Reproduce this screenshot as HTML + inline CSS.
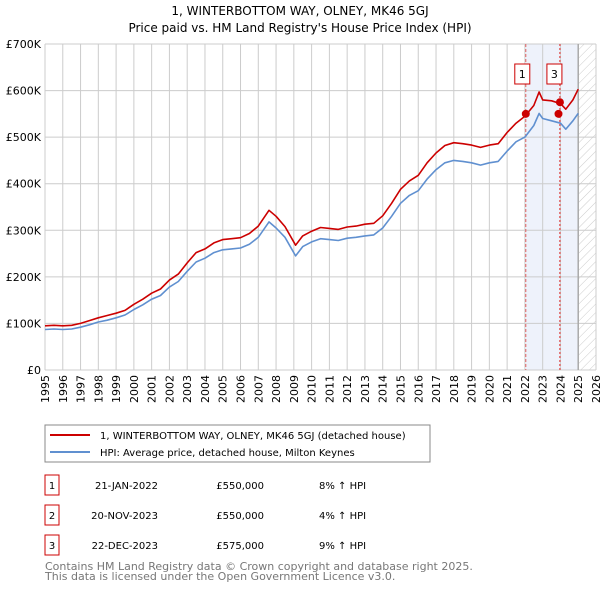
<!DOCTYPE html>
<html><head><meta charset="utf-8"><style>
body{margin:0;background:#fff;font-family:"Liberation Sans","DejaVu Sans",sans-serif;}
svg text{font-family:"DejaVu Sans","Liberation Sans",sans-serif;}
</style></head><body>
<svg id="chart" width="600" height="590" viewBox="0 0 600 590">
<defs><pattern id="hatch" width="6" height="6" patternUnits="userSpaceOnUse" patternTransform="rotate(45)"><line x1="0" y1="0" x2="0" y2="6" stroke="#ccc" stroke-width="1"/></pattern></defs>
<text x="300" y="15" text-anchor="middle" font-size="12">1, WINTERBOTTOM WAY, OLNEY, MK46 5GJ</text>
<text x="300" y="32" text-anchor="middle" font-size="12">Price paid vs. HM Land Registry's House Price Index (HPI)</text>
<g id="grid"></g><g id="marks"></g><g id="axes"></g>
<rect x="45" y="425" width="385" height="37" fill="#fff" stroke="#888"/>
<line x1="50" y1="435" x2="90" y2="435" stroke="#cc0000" stroke-width="2"/>
<text x="100" y="439" font-size="10">1, WINTERBOTTOM WAY, OLNEY, MK46 5GJ (detached house)</text>
<line x1="50" y1="452" x2="90" y2="452" stroke="#6090d0" stroke-width="2"/>
<text x="100" y="456" font-size="10">HPI: Average price, detached house, Milton Keynes</text>
<g id="table" font-size="10"></g>
<text x="45" y="570" font-size="11" fill="#777">Contains HM Land Registry data © Crown copyright and database right 2025.</text>
<text x="45" y="580" font-size="11" fill="#777">This data is licensed under the Open Government Licence v3.0.</text>
</svg>
<script>
const hpiYears=[1995,1995.5,1996,1996.5,1997,1997.5,1998,1998.5,1999,1999.5,2000,2000.5,2001,2001.5,2002,2002.5,2003,2003.5,2004,2004.5,2005,2005.5,2006,2006.5,2007,2007.6,2008,2008.5,2009.1,2009.5,2010,2010.5,2011,2011.5,2012,2012.5,2013,2013.5,2014,2014.5,2015,2015.5,2016,2016.5,2017,2017.5,2018,2018.5,2019,2019.5,2020,2020.5,2021,2021.5,2022,2022.5,2022.8,2023,2023.5,2024,2024.3,2024.7,2025];
const hpiValues=[87,88,87,88,92,97,103,107,112,118,130,140,152,160,178,190,212,232,240,252,258,260,262,270,285,318,305,285,245,265,275,282,280,278,283,285,288,290,305,330,358,375,385,410,430,445,450,448,445,440,445,448,470,490,500,525,551,540,535,530,517,535,551];
const propValues=[95,96,95,96,100,106,112,117,122,128,141,152,165,174,193,206,230,252,260,273,280,282,284,293,309,343,330,308,268,288,298,306,304,302,307,309,313,315,331,358,388,406,418,445,466,482,488,486,483,478,483,486,510,530,545,568,597,580,578,572,560,580,603];
const saleLabels=["1","2","3"];
const saleDates=[2022.05,2023.89,2023.97];
const saleValues=[550,550,575];
const saleDateText=["21-JAN-2022","20-NOV-2023","22-DEC-2023"];
const salePriceText=["£550,000","£550,000","£575,000"];
const saleHpiText=["8% ↑ HPI","4% ↑ HPI","9% ↑ HPI"];
const yTicks=[0,100,200,300,400,500,600,700];
const yTickLabels=["£0","£100K","£200K","£300K","£400K","£500K","£600K","£700K"];
const xTicks=[];for(let y=1995;y<=2026;y++)xTicks.push(y);

const NS="http://www.w3.org/2000/svg";
const X0=45,X1=596,Y0=370,Y1=44;
const xs=v=>X0+(v-1995)/(2026-1995)*(X1-X0);
const ys=v=>Y0-v/700*(Y0-Y1);
function mk(tag,attrs,parent){const e=document.createElementNS(NS,tag);for(const k in attrs)e.setAttribute(k,attrs[k]);parent.appendChild(e);return e;}
const grid=document.getElementById('grid'),marks=document.getElementById('marks'),axes=document.getElementById('axes'),table=document.getElementById('table');

let r=mk('rect',{x:xs(saleDates[0]),y:Y1,width:xs(2025)-xs(saleDates[0]),height:Y0-Y1,fill:'#eef2fb'},grid);


r=mk('rect',{x:xs(2025),y:Y1,width:X1-xs(2025),height:Y0-Y1,fill:'url(#hatch)'},grid);


yTicks.forEach((t,i)=>{
 const l=mk('line',{x1:X0,x2:X1,y1:ys(t),y2:ys(t),stroke:'#ccc'},grid);
 
 
 const tx=mk('text',{x:X0-4,y:ys(t)+4,'text-anchor':'end','font-size':11},axes);tx.textContent=yTickLabels[i];
 
 
});
xTicks.forEach(t=>{
 const l=mk('line',{x1:xs(t),x2:xs(t),y1:Y1,y2:Y0,stroke:'#ccc'},grid);
 
 
 const tx=mk('text',{x:0,y:0,'text-anchor':'end','font-size':11,transform:`translate(${xs(t)+4},${Y0+5}) rotate(-90)`},axes);tx.textContent=t;
 
 
});
let ax=mk('line',{x1:xs(2025),x2:xs(2025),y1:Y1,y2:Y0,stroke:'#aaa','stroke-width':1.5},grid);


[0,2].forEach(i=>{
 const l=mk('line',{x1:xs(saleDates[i]),x2:xs(saleDates[i]),y1:Y1,y2:Y0,stroke:'#e06060','stroke-dasharray':i==2?'2,2':'3,2','stroke-width':i==2?1.5:1},marks);
 
 
});
function path(vals,col,name){
 const d=hpiYears.map((y,i)=>(i?'L':'M')+xs(y).toFixed(1)+','+ys(vals[i]).toFixed(1)).join('');
 const p=mk('path',{d:d,fill:'none',stroke:col,'stroke-width':1.6,'stroke-linejoin':'round'},marks);
 
 
}
path(hpiValues,'#6090d0','hpi-line');
path(propValues,'#cc0000','property-line');
saleDates.forEach((d,i)=>{
 const c=mk('circle',{cx:xs(d),cy:ys(saleValues[i]),r:4,fill:'#cc0000'},marks);
 
 
});
[0,2].forEach(i=>{
 const g=mk('g',{},marks);
 
 
 const x=xs(saleDates[i])-11+(i==2?-2:0);
 mk('rect',{x:x,y:64,width:15,height:20,fill:'#fff',stroke:'#cc0000'},g);
 const t=mk('text',{x:x+7.5,y:78,'text-anchor':'middle','font-size':11},g);t.textContent=saleLabels[i];
});
saleLabels.forEach((s,i)=>{
 const y=485+i*30;
 const g=mk('g',{},table);
 
 
 mk('rect',{x:45,y:y-10,width:14,height:20,fill:'#fff',stroke:'#cc0000'},g);
 let t=mk('text',{x:52,y:y+4,'text-anchor':'middle'},g);t.textContent=s;
 t=mk('text',{x:158,y:y+4,'text-anchor':'end'},g);t.textContent=saleDateText[i];
 t=mk('text',{x:264,y:y+4,'text-anchor':'end'},g);t.textContent=salePriceText[i];
 t=mk('text',{x:319,y:y+4},g);t.textContent=saleHpiText[i];
});
</script>
</body></html>
